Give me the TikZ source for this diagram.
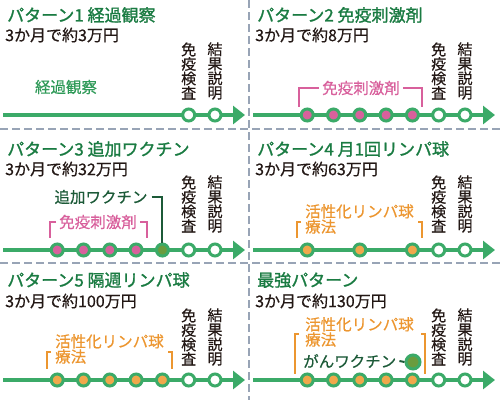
\documentclass[tikz,border=0pt]{standalone}
\usepackage{fontspec}
\setmainfont{Noto Sans CJK JP}
\newfontfamily\medfont{Noto Sans CJK JP}[FakeBold=0.5]
\newfontfamily\semifont{Noto Sans CJK JP}[FakeBold=1.3]
\usetikzlibrary{arrows.meta}
\definecolor{tgreen}{HTML}{1A7B42}
\definecolor{lgreen}{HTML}{3BAA68}
\definecolor{lblgreen}{HTML}{2F9A58}
\definecolor{dgreen}{HTML}{1C5A38}
\definecolor{olivec}{HTML}{6A9C3E}
\definecolor{pinkc}{HTML}{D8609C}
\definecolor{orangef}{HTML}{F0A84B}
\definecolor{oranget}{HTML}{EC9630}
\definecolor{dashc}{HTML}{98A4B6}
\definecolor{txt}{HTML}{231815}
\tikzset{
  title/.style={anchor=west, inner sep=0pt, text=tgreen, font=\semifont\fontsize{17}{17}\selectfont},
  sub/.style={anchor=west, inner sep=0pt, text=txt, font=\medfont\fontsize{16}{16}\selectfont},
  vt/.style={inner sep=0pt, align=center, text=txt, font=\medfont\fontsize{15}{14.5}\selectfont},
  lab/.style={inner sep=0pt, font=\medfont\fontsize{15.5}{14}\selectfont},
  tl/.style={draw=lgreen, line width=4pt, -{Triangle[length=12pt,width=18pt]}},
  dot/.style={circle, draw=lgreen, line width=3pt, minimum size=12pt, inner sep=0pt},
  wdot/.style={dot, fill=white},
  pdot/.style={dot, fill=pinkc},
  odot/.style={dot, fill=orangef},
  gdot/.style={dot, fill=olivec},
  sepline/.style={draw=dashc, line width=1.6pt, dash pattern=on 8pt off 4pt},
  brk/.style={line width=1.5pt},
  conn/.style={draw=dgreen, line width=2pt},
}
\begin{document}
\begin{tikzpicture}[x=1pt,y=-1pt]
\useasboundingbox (0,0) rectangle (500,400);
% separators
\coordinate (h1a) at (0,129); \coordinate (h1b) at (500,129);
\coordinate (h2a) at (0,263); \coordinate (h2b) at (500,263);
\coordinate (v1a) at (249,0); \coordinate (v1b) at (249,400);
\draw[sepline] (h1a) -- (h1b);
\draw[sepline] (h2a) -- (h2b);
\draw[sepline] (v1a) -- (v1b);

% ===== Panel 1 =====
\node[title] (t1) at (7,15) {パターン1 経過観察};
\node[sub] (s1) at (5,35) {3か月で約3万円};
\node[vt] (m1) at (188.7,71) {免\\疫\\検\\査};
\node[vt] (k1) at (215,71) {結\\果\\説\\明};
\node[lab, text=lblgreen] (l1) at (66,87) {経過観察};
\coordinate (a1) at (3,115); \coordinate (b1) at (245,115);
\draw[tl] (a1) -- (b1);
\node[wdot] (p1c5) at (188.7,115) {};
\node[wdot] (p1c6) at (215,115) {};

% ===== Panel 2 =====
\node[title] (t2) at (257,15) {パターン2 免疫刺激剤};
\node[sub] (s2) at (255,35) {3か月で約8万円};
\node[vt] (m2) at (438.7,71) {免\\疫\\検\\査};
\node[vt] (k2) at (465,71) {結\\果\\説\\明};
\coordinate (a2) at (253,115); \coordinate (b2) at (495,115);
\draw[tl] (a2) -- (b2);
\foreach \k/\x in {0/307.2,1/333.5,2/359.8,3/386.1,4/412.4}{
  \node[pdot] (p2c\k) at (\x,115) {};
}
\node[wdot] (p2c5) at (438.7,115) {};
\node[wdot] (p2c6) at (465,115) {};
\node[lab, text=pinkc] (l2) at (361,88) {免疫刺激剤};
\coordinate (br2a) at (299,107); \coordinate (br2b) at (422,107);
\draw[brk, pinkc] ([xshift=-3pt]l2.west) -| (br2a);
\draw[brk, pinkc] ([xshift=3pt]l2.east) -| (br2b);

% ===== Panel 3 =====
\node[title] (t3) at (7,149) {パターン3 追加ワクチン};
\node[sub] (s3) at (5,169) {3か月で約32万円};
\node[vt] (m3) at (188.7,204) {免\\疫\\検\\査};
\node[vt] (k3) at (215,204) {結\\果\\説\\明};
\coordinate (a3) at (3,250); \coordinate (b3) at (245,250);
\draw[tl] (a3) -- (b3);
\foreach \k/\x in {0/57.2,1/83.5,2/109.8,3/136.1}{
  \node[pdot] (p3c\k) at (\x,250) {};
}
\node[gdot] (p3c4) at (162.4,250) {};
\node[wdot] (p3c5) at (188.7,250) {};
\node[wdot] (p3c6) at (215,250) {};
\node[lab, text=pinkc] (l3) at (98,222) {免疫刺激剤};
\coordinate (br3a) at (50,238); \coordinate (br3b) at (147,238);
\draw[brk, pinkc] ([xshift=-3pt]l3.west) -| (br3a);
\draw[brk, pinkc] ([xshift=3pt]l3.east) -| (br3b);
\node[lab, text=dgreen] (v3) at (101,197) {追加ワクチン};
\draw[conn] ([xshift=4pt]v3.east) -| (p3c4.north);

% ===== Panel 4 =====
\node[title] (t4) at (257,149) {パターン4 月1回リンパ球};
\node[sub] (s4) at (255,169) {3か月で約63万円};
\node[vt] (m4) at (438.7,204) {免\\疫\\検\\査};
\node[vt] (k4) at (465,204) {結\\果\\説\\明};
\coordinate (a4) at (253,250); \coordinate (b4) at (495,250);
\draw[tl] (a4) -- (b4);
\node[odot] (p4c0) at (307.2,250) {};
\node[odot] (p4c2) at (359.8,250) {};
\node[odot] (p4c4) at (412.4,250) {};
\node[wdot] (p4c5) at (438.7,250) {};
\node[wdot] (p4c6) at (465,250) {};
\node[lab, text=oranget, anchor=north west, align=left] (l4) at (305,204) {活性化リンパ球\\療法};
\coordinate (br4a) at (301,222); \coordinate (br4b) at (297,238);
\coordinate (br4c) at (418,222); \coordinate (br4d) at (422,238);
\draw[brk, oranget] (br4a) -| (br4b);
\draw[brk, oranget] (br4c) -| (br4d);

% ===== Panel 5 =====
\node[title] (t5) at (7,280) {パターン5 隔週リンパ球};
\node[sub] (s5) at (5,301) {3か月で約100万円};
\node[vt] (m5) at (188.7,337) {免\\疫\\検\\査};
\node[vt] (k5) at (215,337) {結\\果\\説\\明};
\coordinate (a5) at (3,380); \coordinate (b5) at (245,380);
\draw[tl] (a5) -- (b5);
\foreach \k/\x in {0/57.2,1/83.5,2/109.8,3/136.1,4/162.4}{
  \node[odot] (p5c\k) at (\x,380) {};
}
\node[wdot] (p5c5) at (188.7,380) {};
\node[wdot] (p5c6) at (215,380) {};
\node[lab, text=oranget, anchor=north west, align=left] (l5) at (55,334) {活性化リンパ球\\療法};
\coordinate (br5a) at (51,352); \coordinate (br5b) at (47,369);
\coordinate (br5c) at (168,352); \coordinate (br5d) at (172,369);
\draw[brk, oranget] (br5a) -| (br5b);
\draw[brk, oranget] (br5c) -| (br5d);

% ===== Panel 6 =====
\node[title] (t6) at (257,280) {最強パターン};
\node[sub] (s6) at (255,301) {3か月で約130万円};
\node[vt] (m6) at (438.7,337) {免\\疫\\検\\査};
\node[vt] (k6) at (465,337) {結\\果\\説\\明};
\coordinate (a6) at (253,380); \coordinate (b6) at (495,380);
\draw[tl] (a6) -- (b6);
\foreach \k/\x in {0/307.2,1/333.5,2/359.8,3/386.1,4/412.4}{
  \node[odot] (p6c\k) at (\x,380) {};
}
\node[wdot] (p6c5) at (438.7,380) {};
\node[wdot] (p6c6) at (465,380) {};
\node[lab, text=oranget, anchor=north west, align=left] (l6) at (305,317) {活性化リンパ球\\療法};
\coordinate (br6a) at (299,334); \coordinate (br6b) at (295,374);
\coordinate (br6c) at (421,334); \coordinate (br6d) at (425,374);
\draw[brk, oranget] (br6a) -| (br6b);
\draw[brk, oranget] (br6c) -| (br6d);
\node[lab, text=dgreen, anchor=west] (v6) at (303,361) {がんワクチン};
\node[gdot, minimum size=14pt] (g6) at (413,362) {};
\draw[conn] ([xshift=3pt]v6.east) -- (g6.west);
\end{tikzpicture}
\end{document}
